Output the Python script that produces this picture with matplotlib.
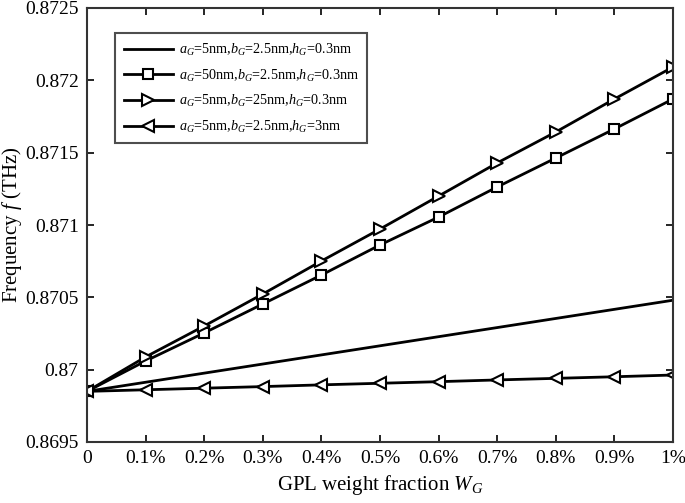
import numpy as np
import matplotlib
matplotlib.use('Agg')
import matplotlib.pyplot as plt
from matplotlib.ticker import FixedLocator

plt.rcParams['font.family'] = ['Liberation Serif', 'DejaVu Serif']
plt.rcParams['mathtext.fontset'] = 'custom'
plt.rcParams['mathtext.rm'] = 'Liberation Serif'
plt.rcParams['mathtext.it'] = 'Liberation Serif:italic'

# 데이터
wg = [0, 0.1, 0.2, 0.3, 0.4, 0.5, 0.6, 0.7, 0.8, 0.9, 1.0]
x_labels = ['0', '0.1%', '0.2%', '0.3%', '0.4%', '0.5%', '0.6%', '0.7%', '0.8%', '0.9%', '1%']

f_base = [0.86985, 0.869913, 0.869976, 0.870039, 0.870102, 0.870165,
          0.870228, 0.870291, 0.870354, 0.870417, 0.87048]
f_a50 = [0.86985, 0.870060, 0.870254, 0.870454, 0.870654, 0.870862,
         0.871055, 0.871263, 0.871463, 0.871664, 0.871871]
f_b25 = [0.86985, 0.870088, 0.870302, 0.870523, 0.870751, 0.870972,
         0.871200, 0.871429, 0.871643, 0.871871, 0.872092]
f_h3 = [0.86985, 0.869861, 0.869872, 0.869883, 0.869895, 0.869906,
        0.869917, 0.869929, 0.869940, 0.869951, 0.869963]

labels = [r'$a_G$=5nm,$b_G$=2.5nm,$h_G$=0.3nm',
          r'$a_G$=50nm,$b_G$=2.5nm,$h_G$=0.3nm',
          r'$a_G$=5nm,$b_G$=25nm,$h_G$=0.3nm',
          r'$a_G$=5nm,$b_G$=2.5nm,$h_G$=3nm']

fig = plt.figure(figsize=(6.85, 5.03), dpi=100)
ax = fig.add_axes([87/685, 1 - 442/503, 586/685, 434/503])

mk = dict(markersize=8, markerfacecolor='white', markeredgewidth=1.5)
ax.plot(wg, f_base, color='black', lw=2, label=labels[0])
ax.plot(wg, f_a50, color='black', lw=2, marker='s', label=labels[1], **dict(mk, markersize=7))
ax.plot(wg, f_b25, color='black', lw=2, marker='>', label=labels[2], **mk)
ax.plot(wg, f_h3, color='black', lw=2, marker='<', label=labels[3], **mk)

ax.set_xlim(0, 1.0)
ax.set_ylim(0.8695, 0.8725)
ax.xaxis.set_major_locator(FixedLocator(wg))
ax.set_xticklabels(x_labels)
yt = [0.8695, 0.87, 0.8705, 0.871, 0.8715, 0.872, 0.8725]
ax.yaxis.set_major_locator(FixedLocator(yt))
ax.set_yticklabels(['0.8695', '0.87', '0.8705', '0.871', '0.8715', '0.872', '0.8725'])
ax.tick_params(direction='in', top=True, right=True, labelsize=14, length=5, width=1.2, pad=6)
for s in ax.spines.values():
    s.set_linewidth(1.5)
    s.set_color('#333333')

ax.set_xlabel(r'GPL weight fraction $W_G$', fontsize=15, labelpad=4)
ax.set_ylabel(r'Frequency $f$ (THz)', fontsize=15)
ax.yaxis.set_label_coords(-0.108, 0.5)

leg = ax.legend(loc='upper left', bbox_to_anchor=(0.048, 0.942), borderaxespad=0,
                fontsize=10.2, frameon=True, fancybox=False, edgecolor='#222222',
                handlelength=3.5, borderpad=0.6, labelspacing=0.68, handletextpad=0.4)
leg.get_frame().set_linewidth(1.5)

fig.savefig('out.png', dpi=100)
